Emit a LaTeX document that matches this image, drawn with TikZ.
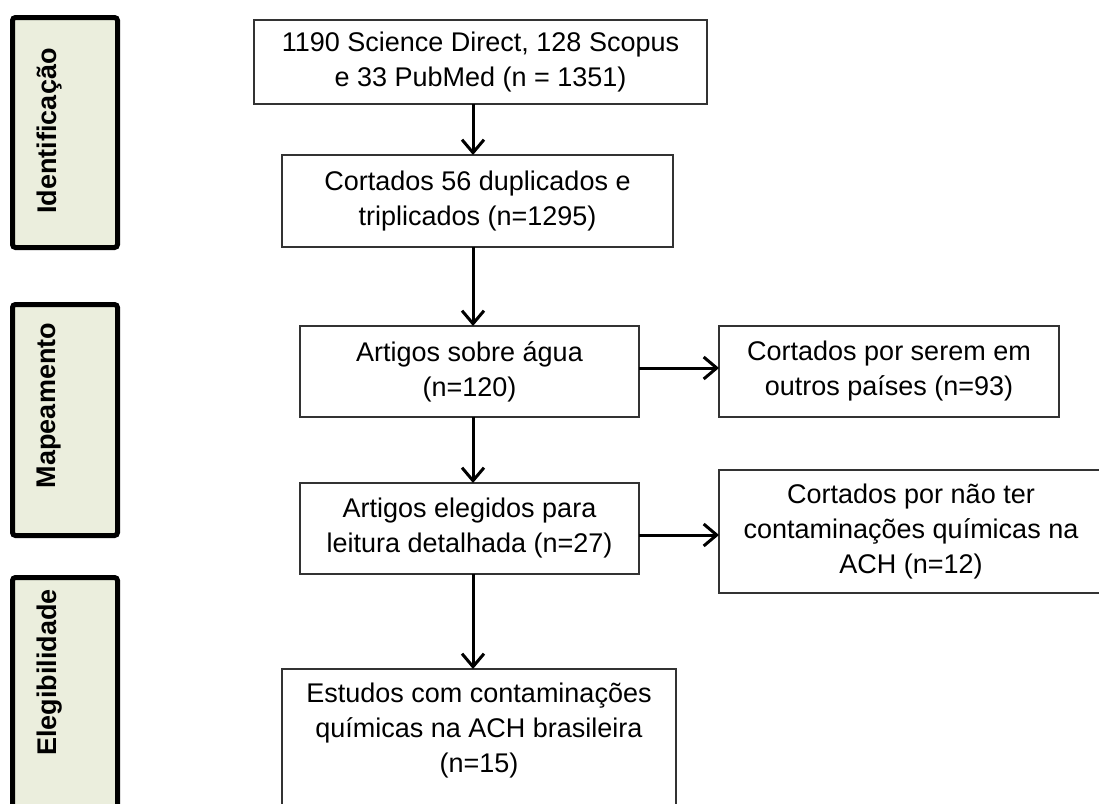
\documentclass[tikz,border=0pt]{standalone}
\usepackage{fontspec}
\setmainfont{Liberation Sans}
\usetikzlibrary{
  arrows.meta,
  positioning
}
\definecolor{phasefill}{RGB}{235,238,221}

\begin{document}
\begin{tikzpicture}[
    x=1pt, y=-1pt,
    every node/.style={font=\fontsize{27}{35}\selectfont},
    box/.style={
      draw=black!80,
      line width=1.5pt,
      align=center,
      fill=white,
      inner sep=0pt,
      outer sep=0pt
    },
    phase/.style={
      draw=black,
      line width=5pt,
      rounded corners=3pt,
      fill=phasefill,
      minimum width=105pt
    },
    phaselabel/.style={
      font=\fontsize{27}{32}\selectfont\bfseries,
      rotate=90
    },
    ar/.style={-{Straight Barb[length=13pt,width=22pt]}, line width=3pt}
  ]

    \clip (0,0) rectangle (1099,803);

    % Phase bars on the left
    \node[phase, minimum height=230pt] (ident) at (65,132.5) {};
    \node[phase, minimum height=231pt] (mapea) at (65,420) {};
    \node[phase, minimum height=272.5pt] (elegi) at (65,713.75) {};
    \node[phaselabel] (identtxt) at (49.5,131) {Identificação};
    \node[phaselabel] (mapeatxt) at (49.5,405.5) {Mapeamento};
    \node[phaselabel] (elegitxt) at (49.5,672.5) {Elegibilidade};

    % Main column
    \node[box, minimum width=453pt, minimum height=84pt] (search) at (480.5,62)
      {1190 Science Direct, 128 Scopus\\e 33 PubMed (n = 1351)};
    \node[box, minimum width=391pt, minimum height=92pt,
          below=51pt of search, xshift=-3pt] (dupl)
      {Cortados 56 duplicados e\\triplicados (n=1295)};
    \node[box, minimum width=339pt, minimum height=91pt,
          below=79pt of dupl, xshift=-8pt] (agua)
      {Artigos sobre água\\(n=120)};
    \node[box, minimum width=339pt, minimum height=91pt,
          below=66pt of agua] (eleitos)
      {Artigos elegidos para\\leitura detalhada (n=27)};
    \node[box, minimum width=394pt, inner ysep=14pt, text depth=150pt,
          below=95pt of eleitos, xshift=9.5pt] (final)
      {Estudos com contaminações\\químicas na ACH brasileira\\(n=15)};

    % Excluded records on the right
    \node[box, minimum width=340pt, minimum height=91pt,
          right=80pt of agua] (outros)
      {Cortados por serem em\\outros países (n=93)};
    \node[box, minimum width=384pt, minimum height=123pt,
          right=80pt of eleitos, yshift=-3pt] (quimica)
      {Cortados por não ter\\contaminações químicas na\\ACH (n=12)};

    % Connectors
    \coordinate (col) at (473,0);
    \draw[ar] (search.south -| col) -- (dupl.north -| col);
    \draw[ar] (dupl.south -| col) -- (agua.north -| col);
    \draw[ar] (agua.south -| col) -- (eleitos.north -| col);
    \draw[ar] (eleitos.south -| col) -- (final.north -| col);
    \draw[ar] ([yshift=3.5pt]agua.east) -- ([yshift=3.5pt]outros.west);
    \draw[ar] ([yshift=-6.5pt]eleitos.east) -- ([yshift=-6.5pt]eleitos.east -| quimica.west);

  \end{tikzpicture}
\end{document}
